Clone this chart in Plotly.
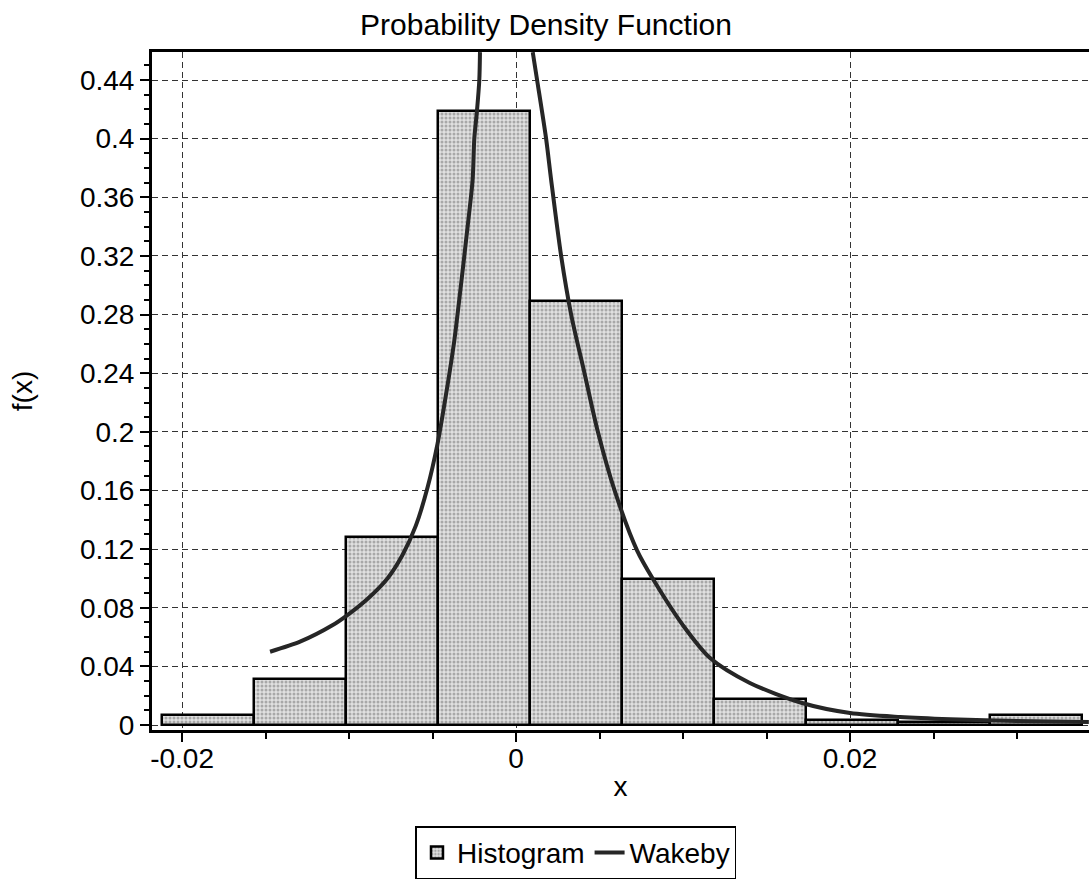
import plotly.graph_objects as go

# Histogram bins (left edges) and densities
bin_width = 0.00551
bin_left = [-0.0212, -0.01569, -0.01018, -0.00467, 0.00084, 0.00635, 0.01186, 0.01737, 0.02288, 0.02839]
hist_density = [0.0068, 0.0314, 0.128, 0.419, 0.289, 0.0996, 0.0177, 0.0034, 0.0018, 0.0068]

# Wakeby fitted density (left branch, right branch)
wak_left_x = [-0.01473, -0.0129, -0.011, -0.0101, -0.0089, -0.0077, -0.0068, -0.006, -0.0053,
              -0.0047, -0.0042, -0.0037, -0.0033, -0.0029, -0.0026, -0.0025, -0.00234, -0.0022, -0.00216]
wak_left_y = [0.050, 0.057, 0.068, 0.075, 0.086, 0.100, 0.116, 0.136, 0.162,
              0.192, 0.225, 0.262, 0.300, 0.340, 0.372, 0.40, 0.419, 0.44, 0.459]
wak_right_x = [0.0010, 0.00126, 0.0018, 0.0021, 0.0027, 0.0033, 0.0041, 0.0049, 0.0059, 0.00725,
               0.0082, 0.0100, 0.01162, 0.014, 0.01713, 0.020, 0.023, 0.026, 0.030, 0.0343]
wak_right_y = [0.459, 0.44, 0.40, 0.372, 0.32, 0.28, 0.24, 0.20, 0.16, 0.119,
               0.0996, 0.068, 0.0457, 0.0287, 0.015, 0.0082, 0.0055, 0.0040, 0.0028, 0.002]

FONT = "Liberation Sans, Arial, sans-serif"
GRID_DASH = "6px,4px"

fig = go.Figure()
fig.add_trace(go.Bar(
    x=bin_left, y=hist_density, width=[bin_width] * len(bin_left), offset=0,
    name="Histogram",
    marker=dict(color="#d8d8d8", line=dict(color="black", width=2.5),
                pattern=dict(shape=".", fgcolor="#707070", bgcolor="#e0e0e0", size=4, solidity=0.45)),
))
fig.add_trace(go.Scatter(
    x=wak_left_x + [None] + wak_right_x,
    y=wak_left_y + [None] + wak_right_y,
    mode="lines", name="Wakeby",
    line=dict(color="#262626", width=4, shape="spline", smoothing=0.8), connectgaps=False,
))

fig.update_layout(
    width=1089, height=880,
    margin=dict(l=152, r=0, t=52, b=150),
    paper_bgcolor="white", plot_bgcolor="white",
    font=dict(family=FONT, size=28, color="black"),
    title=dict(text="Probability Density Function", x=546 / 1089, xanchor="center",
               y=1 - 24 / 880, yanchor="middle", font=dict(size=30)),
    showlegend=True,
    legend=dict(orientation="h", x=0.4525, xanchor="center", y=-0.181, yanchor="middle",
                bordercolor="black", borderwidth=1.5, font=dict(size=28),
                itemwidth=30, tracegroupgap=0),
    bargap=0,
)
fig.update_xaxes(
    range=[-0.0218, 0.03431], tickvals=[-0.02, 0, 0.02], ticktext=["-0.02", "0", "0.02"],
    showgrid=True, gridcolor="#333", gridwidth=1, griddash=GRID_DASH,
    showline=True, linecolor="black", linewidth=3, mirror=True,
    ticks="outside", ticklen=9, tickwidth=1.5, tickcolor="black", ticklabelstandoff=-8,
    minor=dict(dtick=0.005, tick0=0, ticks="outside", ticklen=6, tickcolor="black", showgrid=False),
    zeroline=False,
    title=dict(text="x", standoff=4, font=dict(size=28)),
)
fig.update_yaxes(
    range=[-0.0034, 0.4591], tickvals=[0, 0.04, 0.08, 0.12, 0.16, 0.2, 0.24, 0.28, 0.32, 0.36, 0.4, 0.44],
    ticktext=["0", "0.04", "0.08", "0.12", "0.16", "0.2", "0.24", "0.28", "0.32", "0.36", "0.4", "0.44"],
    showgrid=True, gridcolor="#333", gridwidth=1, griddash=GRID_DASH,
    showline=True, linecolor="black", linewidth=3,
    ticks="outside", ticklen=9, tickwidth=1.5, tickcolor="black",
    minor=dict(dtick=0.01, tick0=0, ticks="outside", ticklen=5, tickcolor="black", showgrid=False),
    zeroline=False,
    title=dict(text="f(x)", standoff=40, font=dict(size=28)),
)

fig.write_html("out.html")
